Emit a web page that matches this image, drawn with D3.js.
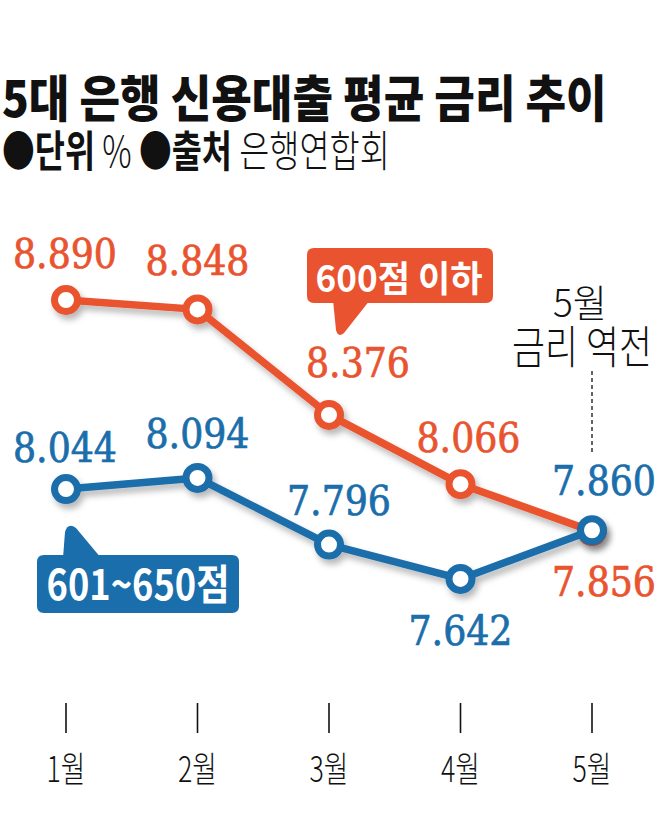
<!DOCTYPE html>
<html>
<head>
<meta charset="utf-8">
<script src="https://cdn.jsdelivr.net/npm/d3@7"></script>
<style>
  body { margin: 0; background: #fff; }
  .kr { font-family: "Noto Sans CJK KR", "Noto Sans", sans-serif; }
  .num { font-family: "DejaVu Serif Condensed", "DejaVu Serif", serif; font-stretch: condensed; }
</style>
</head>
<body>
<div class="chart"></div>
<script>
// chart data
var months = ["1월", "2월", "3월", "4월", "5월"];
var lowScore = [8.890, 8.848, 8.376, 8.066, 7.856];   // 600점 이하
var midScore = [8.044, 8.094, 7.796, 7.642, 7.860];   // 601~650점
var seriesNames = ["600점 이하", "601~650점"];
var titleText = "5대 은행 신용대출 평균 금리 추이";
var noteParts = ["●단위", " % ", "●출처", " 은행연합회"];
var noteLines = ["5월", "금리 역전"];

// layout
var svgWidth = 658;
var svgHeight = 836;
var orange = "#e9532f";
var blue = "#1a6eab";

// label offsets from each point (dx, dy)
var lowLabelOffset = [[-1, -32], [0, -34], [29, -38], [8, -32], [12, 65]];
var midLabelOffset = [[-1, -27], [0, -30], [10, -30], [0, 66], [12, -35]];

var svg = d3.select(".chart")
  .append("svg")
  .attr("width", svgWidth)
  .attr("height", svgHeight);

var xScale = d3.scalePoint()
  .domain(months)
  .range([66, 592]);

var yScale = d3.scaleLinear()
  .domain([7.5, 9.0])
  .range([610.7, 275.4]);

/********************************************/
function squeeze(text, width) {
  var w = text.node().getComputedTextLength();
  var k = width / w;
  var x = +text.attr("x");
  text.attr("transform", `translate(${x},0) scale(${k},1) translate(${-x},0)`);
}

/********************************************/
// title + note
var title = svg.append("text")
  .attr("class", "kr")
  .attr("x", 2)
  .attr("y", 117)
  .attr("font-size", 50)
  .attr("font-weight", 900)
  .attr("fill", "#111")
  .text(titleText);
squeeze(title, 605);

var note = svg.append("text")
  .attr("class", "kr")
  .attr("x", 2)
  .attr("y", 167)
  .attr("font-size", 43)
  .attr("fill", "#111");
note.selectAll("tspan")
  .data(noteParts)
  .enter()
  .append("tspan")
  .attr("font-weight", (d, i) => i % 2 === 0 ? 700 : 300)
  .text(d => d);
squeeze(note, 388);

/********************************************/
// shadow filter
var defs = svg.append("defs");
defs.append("filter")
  .attr("id", "shadow")
  .attr("x", "-20%").attr("y", "-20%")
  .attr("width", "140%").attr("height", "140%")
  .append("feDropShadow")
  .attr("dx", 3)
  .attr("dy", 5)
  .attr("stdDeviation", 3)
  .attr("flood-color", "#000")
  .attr("flood-opacity", 0.28);

/********************************************/
// x axis: ticks + labels
var xAxis = svg.append("g").attr("class", "x-axis");

xAxis.selectAll("line")
  .data(months)
  .enter()
  .append("line")
  .attr("x1", d => xScale(d))
  .attr("x2", d => xScale(d))
  .attr("y1", 703)
  .attr("y2", 733)
  .attr("stroke", "#111")
  .attr("stroke-width", 1.6);

xAxis.selectAll("text")
  .data(months)
  .enter()
  .append("text")
  .attr("class", "kr")
  .attr("x", d => xScale(d))
  .attr("y", 782)
  .attr("text-anchor", "middle")
  .attr("font-size", 35)
  .attr("font-weight", 300)
  .attr("fill", "#111")
  .text(d => d)
  .each(function () { squeeze(d3.select(this), 39); });

/********************************************/
// annotation for May crossover
var lastMonth = months[months.length - 1];

svg.append("line")
  .attr("x1", xScale(lastMonth))
  .attr("x2", xScale(lastMonth))
  .attr("y1", 371)
  .attr("y2", 452)
  .attr("stroke", "#222")
  .attr("stroke-width", 1.4)
  .attr("stroke-dasharray", "4,3");

var note1 = svg.append("text")
  .attr("class", "kr")
  .attr("x", 580)
  .attr("y", 317)
  .attr("text-anchor", "middle")
  .attr("font-size", 38)
  .attr("font-weight", 300)
  .attr("fill", "#111")
  .text(noteLines[0]);
squeeze(note1, 54);

var note2 = svg.append("text")
  .attr("class", "kr")
  .attr("x", 582)
  .attr("y", 364)
  .attr("text-anchor", "middle")
  .attr("font-size", 45)
  .attr("font-weight", 300)
  .attr("fill", "#111")
  .text(noteLines[1]);
squeeze(note2, 140);

/********************************************/
// lines and markers
var line = d3.line()
  .x((d, i) => xScale(months[i]))
  .y(d => yScale(d));

function createSeries(values, color) {
  var g = svg.append("g").attr("filter", "url(#shadow)");

  g.append("path")
    .datum(values)
    .attr("d", line)
    .attr("fill", "none")
    .attr("stroke", color)
    .attr("stroke-width", 7.5)
    .attr("stroke-linejoin", "round");

  g.selectAll("circle")
    .data(values)
    .enter()
    .append("circle")
    .attr("cx", (d, i) => xScale(months[i]))
    .attr("cy", d => yScale(d))
    .attr("r", 11.5)
    .attr("fill", "#fff")
    .attr("stroke", color)
    .attr("stroke-width", 7);
}

function createLabels(values, offsets, color) {
  svg.append("g")
    .selectAll("text")
    .data(values)
    .enter()
    .append("text")
    .attr("class", "num")
    .attr("x", (d, i) => xScale(months[i]) + offsets[i][0])
    .attr("y", (d, i) => yScale(d) + offsets[i][1])
    .attr("text-anchor", "middle")
    .attr("font-size", 41)
    .attr("fill", color)
    .attr("stroke", color)
    .attr("stroke-width", 0.7)
    .text(d => d3.format(".3f")(d))
    .each(function () { squeeze(d3.select(this), 104); });
}

createSeries(lowScore, orange);
createSeries(midScore, blue);
createLabels(lowScore, lowLabelOffset, orange);
createLabels(midScore, midLabelOffset, blue);

/********************************************/
// callout boxes
function roundedBox(x0, y0, x1, y1, r) {
  return `M${x0 + r},${y0} H${x1 - r} Q${x1},${y0} ${x1},${y0 + r}` +
    ` V${y1 - r} Q${x1},${y1} ${x1 - r},${y1} H${x0 + r} Q${x0},${y1} ${x0},${y1 - r}` +
    ` V${y0 + r} Q${x0},${y0} ${x0 + r},${y0} Z`;
}

// 600점 이하 (tail pointing down)
svg.append("path")
  .attr("d", roundedBox(307, 248, 493, 303, 7))
  .attr("fill", orange);
svg.append("path")
  .attr("d", "M333,300 L336,330 Q338,338 344,333 L370,300 Z")
  .attr("fill", orange);
var orangeText = svg.append("text")
  .attr("class", "kr")
  .attr("x", 399)
  .attr("y", 292)
  .attr("text-anchor", "middle")
  .attr("font-size", 36)
  .attr("font-weight", 700)
  .attr("fill", "#fff")
  .text(seriesNames[0]);
squeeze(orangeText, 167);

// 601~650점 (tail pointing up)
svg.append("path")
  .attr("d", roundedBox(37, 555, 239, 613, 7))
  .attr("fill", blue);
svg.append("path")
  .attr("d", "M63,558 L65,532 Q68,522 76,528 L101,558 Z")
  .attr("fill", blue);
var blueText = svg.append("text")
  .attr("class", "kr")
  .attr("x", 138)
  .attr("y", 600)
  .attr("text-anchor", "middle")
  .attr("font-size", 42)
  .attr("font-weight", 700)
  .attr("fill", "#fff")
  .text(seriesNames[1]);
squeeze(blueText, 183);
</script>
</body>
</html>
